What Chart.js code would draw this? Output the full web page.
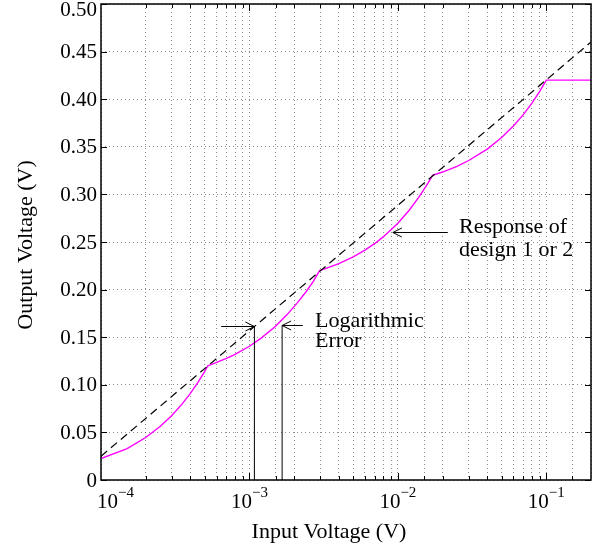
<!DOCTYPE html>
<html>
<head>
<meta charset="utf-8">
<script src="https://cdn.jsdelivr.net/npm/chart.js@4.4.1/dist/chart.umd.min.js"></script>
<style>
  html, body { margin: 0; padding: 0; background: #fff; }
</style>
</head>
<body>
<canvas id="myChart" width="599" height="548"></canvas>
<script>
// ideal logarithmic response (dashed)
const idealX = [1e-4, 0.2];
const idealY = [0.025, 0.46];

// response of design 1 or 2 (magenta)
const respX = [1e-4, 1.5e-4, 2e-4, 2.5e-4, 3e-4, 3.5e-4, 4e-4, 4.5e-4, 5e-4, 5.25e-4,
    6e-4, 7e-4, 8e-4, 1e-3, 1.2e-3, 1.5e-3, 1.8e-3, 2.1e-3, 2.4e-3, 2.7e-3, 2.97e-3,
    3.5e-3, 4e-3, 5e-3, 6e-3, 7e-3, 8e-3, 1e-2, 1.2e-2, 1.4e-2, 1.6e-2, 1.71e-2,
    2e-2, 2.5e-2, 3e-2, 4e-2, 5e-2, 6e-2, 7e-2, 8e-2, 9e-2, 0.1, 0.2];
const respY = [0.0225, 0.033, 0.0446, 0.0562, 0.0678, 0.0794, 0.091, 0.1026, 0.1142, 0.12,
    0.1235, 0.1277, 0.132, 0.1405, 0.149, 0.1615, 0.174, 0.186, 0.1975, 0.209, 0.22,
    0.2238, 0.2273, 0.2344, 0.2414, 0.2485, 0.2556, 0.2698, 0.2839, 0.2981, 0.3122, 0.32,
    0.3235, 0.3295, 0.3356, 0.3476, 0.3597, 0.3718, 0.3838, 0.3959, 0.4079, 0.42, 0.42];

// "logarithmic error" markers
const errLineX = [1.08e-3, 1.66e-3];
const errLineTop = [0.1614, 0.1625];
const arrowFromX = [6.45e-4, 2.29e-3, 2.17e-2];
const arrowToX = [1.08e-3, 1.66e-3, 9.25e-3];
const arrowY = [0.1614, 0.1625, 0.2606];

// tick labels
const yTicks = [0, 0.05, 0.1, 0.15, 0.2, 0.25, 0.3, 0.35, 0.4, 0.45, 0.5];
const yTickLabels = ['0', '0.05', '0.10', '0.15', '0.20', '0.25', '0.30', '0.35', '0.40', '0.45', '0.50'];
const xDecades = [1e-4, 1e-3, 1e-2, 1e-1];
const xExpLabels = ['\u22124', '\u22123', '\u22122', '\u22121'];

const FONT = '"Liberation Serif", "Times New Roman", serif';

const pts = (xs, ys) => xs.map((x, i) => ({x: x, y: ys[i]}));

const errDatasets = errLineX.map((x, i) => ({
    data: [{x: x, y: 0}, {x: x, y: errLineTop[i]}],
    borderColor: '#000',
    borderWidth: 1,
    pointRadius: 0
}));

const data = {
    datasets: [
        {
            label: 'ideal',
            data: pts(idealX, idealY),
            borderColor: '#000',
            borderWidth: 1.2,
            borderDash: [8, 5],
            pointRadius: 0
        },
        ...errDatasets,
        {
            label: 'Response of design 1 or 2',
            data: pts(respX, respY),
            borderColor: '#ff00ff',
            borderWidth: 1.4,
            pointRadius: 0
        }
    ]
};

function arrow(ctx, x1, y1, x2, y2) {
    const dir = Math.sign(x2 - x1);
    ctx.beginPath();
    ctx.moveTo(x1, y1);
    ctx.lineTo(x2, y2);
    ctx.moveTo(x2 - dir * 9, y2 - 4.5);
    ctx.lineTo(x2, y2);
    ctx.lineTo(x2 - dir * 9, y2 + 4.5);
    ctx.stroke();
}

// matlab style frame, inner ticks, labels and notes
const frame = {
    id: 'frame',
    afterDraw(chart) {
        const ctx = chart.ctx;
        const a = chart.chartArea;
        const xs = chart.scales.x, ys = chart.scales.y;
        ctx.save();
        ctx.strokeStyle = '#000';
        ctx.fillStyle = '#000';

        // ticks
        ctx.lineWidth = 1;
        ctx.beginPath();
        xs.ticks.forEach(t => {
            const px = Math.round(xs.getPixelForValue(t.value)) + 0.5;
            if (px <= a.left + 1 || px >= a.right - 1) return;
            const lg = Math.log10(t.value);
            const len = Math.abs(lg - Math.round(lg)) < 1e-6 ? 7 : 4;
            ctx.moveTo(px, a.bottom); ctx.lineTo(px, a.bottom - len);
            ctx.moveTo(px, a.top); ctx.lineTo(px, a.top + len);
        });
        yTicks.forEach(v => {
            const py = Math.round(ys.getPixelForValue(v)) + 0.5;
            ctx.moveTo(a.left, py); ctx.lineTo(a.left + 6, py);
            ctx.moveTo(a.right, py); ctx.lineTo(a.right - 6, py);
        });
        ctx.stroke();

        // box
        ctx.lineWidth = 1.5;
        ctx.strokeRect(a.left, a.top, a.right - a.left, a.bottom - a.top);

        // y tick labels
        ctx.font = '21px ' + FONT;
        ctx.textAlign = 'right';
        ctx.textBaseline = 'middle';
        yTicks.forEach((v, i) => {
            let py = ys.getPixelForValue(v) + 1;
            if (py < a.top + 6) py = a.top + 6;
            ctx.fillText(yTickLabels[i], a.left - 4, py);
        });

        // x tick labels 10^n
        ctx.textAlign = 'left';
        ctx.textBaseline = 'alphabetic';
        xDecades.forEach((v, i) => {
            ctx.font = '21px ' + FONT;
            const w1 = ctx.measureText('10').width;
            ctx.font = '15px ' + FONT;
            const w2 = ctx.measureText(xExpLabels[i]).width;
            const px = xs.getPixelForValue(v);
            let left = px - (w1 + w2) / 2;
            if (left < a.left - 4) left = a.left - 4;
            ctx.font = '21px ' + FONT;
            ctx.fillText('10', left, a.bottom + 28);
            ctx.font = '15px ' + FONT;
            ctx.fillText(xExpLabels[i], left + w1, a.bottom + 17);
        });

        // axis titles
        ctx.font = '22px ' + FONT;
        ctx.textAlign = 'center';
        ctx.fillText('Input Voltage (V)', 329, 538);
        ctx.save();
        ctx.translate(32, 245);
        ctx.rotate(-Math.PI / 2);
        ctx.fillText('Output Voltage (V)', 0, 0);
        ctx.restore();

        // notes
        ctx.textAlign = 'left';
        ctx.fillText('Logarithmic', 315, 327);
        ctx.fillText('Error', 315, 347);
        ctx.fillText('Response of', 459, 233);
        ctx.fillText('design 1 or 2', 459, 256);

        // arrows
        ctx.lineWidth = 1;
        arrowY.forEach((v, i) => {
            const py = Math.round(ys.getPixelForValue(v)) + 0.5;
            arrow(ctx, xs.getPixelForValue(arrowFromX[i]), py, xs.getPixelForValue(arrowToX[i]), py);
        });
        ctx.restore();
    }
};

const config = {
    type: 'line',
    data: data,
    options: {
        responsive: false,
        animation: false,
        devicePixelRatio: 1,
        layout: {
            padding: {left: 101, top: 4, right: 8, bottom: 68}
        },
        scales: {
            x: {
                type: 'logarithmic',
                min: 1e-4,
                max: 0.2,
                ticks: {display: false, autoSkip: false},
                grid: {color: 'rgba(0,0,0,0.45)', drawTicks: false, lineWidth: 1},
                border: {display: false, dash: [1, 3]}
            },
            y: {
                type: 'linear',
                min: 0,
                max: 0.5,
                ticks: {display: false, stepSize: 0.05},
                grid: {color: 'rgba(0,0,0,0.45)', drawTicks: false, lineWidth: 1},
                border: {display: false, dash: [1, 3]}
            }
        },
        plugins: {
            legend: {display: false},
            tooltip: {enabled: false},
            title: {display: false}
        }
    },
    plugins: [frame]
};

const myChart = new Chart(document.getElementById('myChart'), config);
</script>
</body>
</html>
